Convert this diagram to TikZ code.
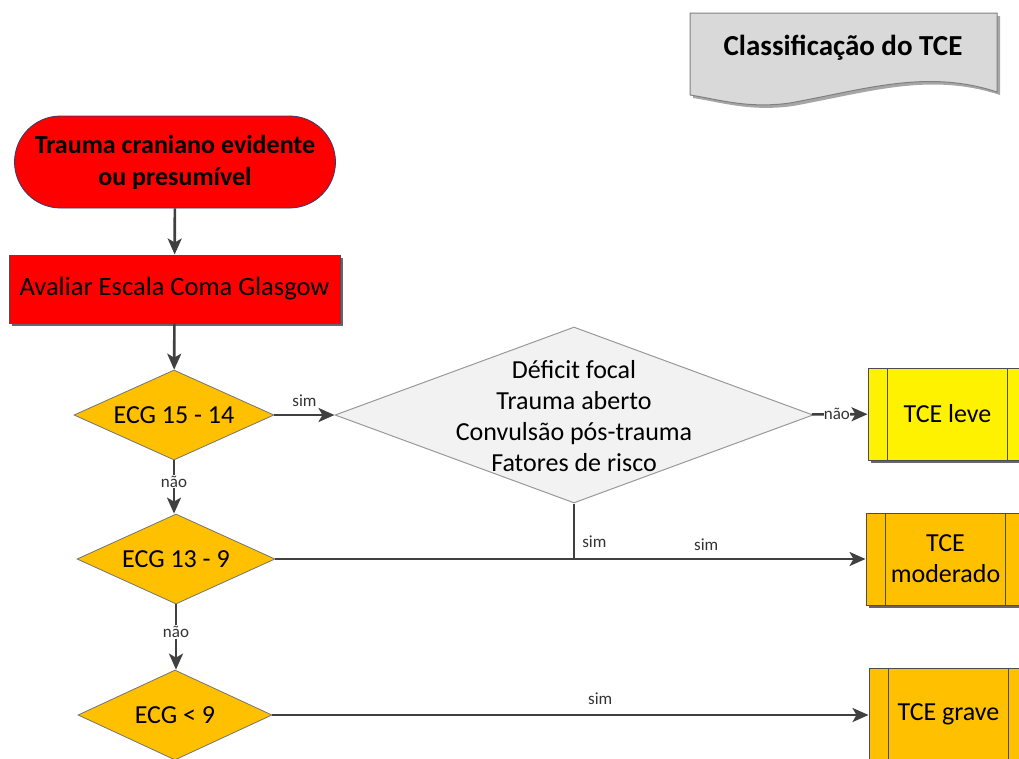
\documentclass[tikz,border=0pt]{standalone}
\usepackage{fontspec}
\setmainfont{Carlito}
\usetikzlibrary{shapes.geometric,shapes.misc,arrows.meta,shadows}
\definecolor{amber}{HTML}{FFC000}
\definecolor{lc}{HTML}{404040}
\definecolor{docgray}{HTML}{D9D9D9}
\definecolor{diagray}{HTML}{F2F2F2}
\definecolor{termborder}{HTML}{2F3C6E}
\begin{document}
\begin{tikzpicture}[x=1pt,y=-1pt,
  txt/.style={font=\fontsize{26}{31}\selectfont},
  conn/.style={draw=lc, line width=2.6pt},
  arr/.style={conn, -{Stealth[length=16pt,width=14pt,inset=4pt]}},
  lbl/.style={font=\fontsize{17}{20}\selectfont, text=black!80, inner sep=1pt},
  dia/.style={diamond, draw=black!55, line width=0.8pt, fill=amber, inner sep=0pt},
  shad/.style={drop shadow={shadow xshift=3pt, shadow yshift=-3pt, opacity=0.75, fill=black!80}},
  tcebox/.style={rectangle, draw=black!70, line width=1pt, minimum width=159pt, minimum height=92pt, inner sep=0pt, shad, txt, align=center},
]
\useasboundingbox (0,0) rectangle (1019,758);
\clip (0,0) rectangle (1019,758);

% title document shape
\fill[black!35] (693,16) -- (1000,16) -- (1000,95)
  .. controls (930,72) and (870,92) .. (793,106)
  .. controls (750,112) and (720,102) .. (693,98) -- cycle;
\draw[fill=docgray, draw=black!50, line width=1pt] (690,13) -- (997,13) -- (997,92)
  .. controls (927,69) and (867,89) .. (790,103)
  .. controls (747,109) and (717,99) .. (690,95) -- cycle;
\node[font=\fontsize{29}{34}\selectfont\bfseries] (title) at (843,48) {Classificação do TCE};

% start terminator
\node[rounded rectangle, draw=termborder, line width=0.8pt, fill=red, minimum width=321pt, minimum height=92pt, inner sep=0pt, font=\fontsize{26}{32}\selectfont\bfseries, align=center] (start) at (175,162) {Trauma craniano evidente\\ou presumível};

% process
\node[rectangle, draw=black!70, line width=1pt, fill=red, minimum width=331pt, minimum height=68pt, inner sep=0pt, shad, font=\fontsize{26.5}{31}\selectfont] (aval) at (174.5,289) {Avaliar Escala Coma Glasgow};

% diamonds
\node[dia, minimum width=200pt, minimum height=90pt] (d1) at (174,415) {};
\node[txt] (d1t) at (d1) {ECG 15 - 14};
\node[dia, minimum width=198pt, minimum height=90pt] (d3) at (176,559) {};
\node[txt] (d3t) at (d3) {ECG 13 - 9};
\node[dia, minimum width=194pt, minimum height=90pt] (d4) at (175,715) {};
\node[txt] (d4t) at (d4) {ECG < 9};
\node[diamond, draw=black!40, line width=1pt, fill=diagray, inner sep=0pt, minimum width=478pt, minimum height=176pt] (d2) at (574,415) {};
\node[txt, align=center] (d2t) at (574,416) {Déficit focal\\Trauma aberto\\Convulsão pós-trauma\\Fatores de risco};

% result boxes
\node[tcebox, fill=yellow] (leve) at (947.5,414) {TCE leve};
\node[tcebox, fill=amber] (mod) at (945.5,559) {TCE\\moderado};
\node[tcebox, fill=amber] (grave) at (948.5,714) {TCE grave};
\foreach \b in {leve,mod,grave}{
  \draw[black!70, line width=1pt] ([xshift=20pt]\b.north west) -- ([xshift=20pt]\b.south west);
  \draw[black!70, line width=1pt] ([xshift=-20pt]\b.north east) -- ([xshift=-20pt]\b.south east);
}

% connectors
\draw[arr] (start) -- (aval);
\draw[arr] (aval) -- (d1);
\draw[arr] (d1) -- node[lbl, above=6pt] {sim} (d2);
\draw[arr] (d2) -- node[lbl, fill=white, inner sep=0pt, pos=0.45] {não} (leve);
\draw[arr] (d1.south) -- node[lbl, fill=white, pos=0.4] {não} (d1.south |- d3.north);
\draw[arr] (d3.east) -- node[lbl, above=6pt, pos=0.73] {sim} (mod.west);
\coordinate (j) at (d2.south |- d3.east);
\draw[conn] (d2.south) -- node[lbl, right=6pt, pos=0.68] {sim} (j);
\draw[arr] (d3.south) -- node[lbl, fill=white, pos=0.42] {não} (d3.south |- d4.north);
\draw[arr] (d4.east) -- node[lbl, above=8pt, pos=0.55] {sim} (grave.west |- d4.east);
\end{tikzpicture}
\end{document}
